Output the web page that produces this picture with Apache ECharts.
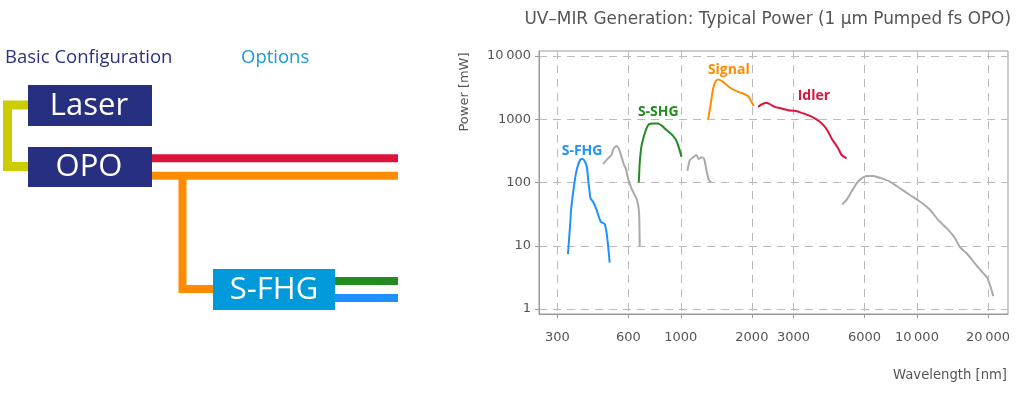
<!DOCTYPE html>
<html>
<head>
<meta charset="utf-8">
<script src="https://cdn.jsdelivr.net/npm/echarts@6/dist/echarts.min.js"></script>
<style>
html,body{margin:0;padding:0;background:#fff;}
#chart{width:1024px;height:395px;}
</style>
</head>
<body>
<div id="chart"></div>
<script>
// ---- data (wavelength in nm, power in mW) ----
const xTicks = [300, 600, 1000, 2000, 3000, 6000, 10000, 20000];
const yTicks = [1, 10, 100, 1000, 10000];

const sfhgWl = [333, 341, 343, 356, 364, 376, 384, 395, 401, 407, 415, 425, 440, 458, 476, 484, 492, 500];
const sfhgPw = [7.4, 25, 37, 110, 168, 232, 236, 205, 168, 97, 56, 50, 37, 24, 22, 17, 10.3, 5.4];

const sshgWl = [664, 670, 681, 697, 716, 734, 763, 801, 836, 870, 913, 952, 974, 1007];
const sshgPw = [100, 201, 367, 528, 716, 837, 859, 859, 779, 673, 582, 480, 390, 255];

const signalWl = [1306, 1340, 1371, 1407, 1448, 1511, 1586, 1666, 1749, 1837, 1929, 1993, 2037];
const signalPw = [993, 1775, 3060, 4035, 4245, 3890, 3330, 2952, 2706, 2552, 2313, 1880, 1626];

const idlerWl = [2127, 2198, 2293, 2383, 2500, 2670, 2849, 3041, 3246, 3464, 3697, 3881, 4077, 4210, 4351, 4492, 4642, 4798, 5035];
const idlerPw = [1570, 1711, 1815, 1730, 1570, 1479, 1392, 1358, 1261, 1161, 1030, 910, 759, 633, 498, 415, 346, 272, 241];

const grayAWl = [469, 492, 508, 520, 534, 546, 561, 575, 585, 598, 618, 638, 653, 666, 670];
const grayAPw = [196, 241, 272, 346, 377, 346, 255, 189, 167, 116, 81, 63, 53, 33, 9.7];

const grayBWl = [1067, 1092, 1127, 1165, 1192, 1223, 1255, 1272, 1290, 1314, 1345];
const grayBPw = [153, 226, 250, 272, 235, 250, 237, 189, 145, 110, 101];

const grayCWl = [4826, 5035, 5287, 5553, 5832, 6124, 6534, 7087, 7685, 8472, 9340, 10300, 11350, 12300, 13570, 14490, 15210, 16240, 17340, 18500, 19740, 20380, 21060];
const grayCPw = [45, 53, 72, 97, 116, 127, 127, 116, 103, 81, 63.5, 50, 37, 25.6, 17.8, 13.2, 9.5, 7.6, 5.6, 4.2, 3.2, 2.4, 1.6];

// labels for curves: [text, wavelength, power]
const curveLabels = {
  sfhg: ['S-FHG', 382, 314],
  sshg: ['S-SHG', 803, 1294],
  signal: ['Signal', 1597, 6055],
  idler: ['Idler', 3661, 2313]
};

// ---- helpers ----
const zip = (a, b) => a.map((v, i) => [v, b[i]]);
const fmt = v => {
  const n = Math.round(v);
  return n >= 10000 ? String(n).replace(/(\d)(?=(\d{3})+$)/g, '$1\u2009') : String(n);
};
const FONT = 'DejaVu Sans';
const DIAG_FONT = 'Open Sans';

function curve(name, wl, pw, color, lbl) {
  const s = {
    name: name, type: 'line', data: zip(wl, pw), showSymbol: false, symbol: 'none',
    smooth: 0.2, lineStyle: { color: color, width: 2 }, itemStyle: { color: color },
    z: 3, silent: true
  };
  if (lbl) {
    s.markPoint = {
      symbol: 'circle', symbolSize: 0, silent: true,
      data: [{ coord: [lbl[1], lbl[2]], value: lbl[0] }],
      label: { show: true, position: 'inside', formatter: lbl[0], color: color,
               fontFamily: DIAG_FONT, fontWeight: 'bold', fontSize: 14 }
    };
  }
  return s;
}

const chart = echarts.init(document.getElementById('chart'), null, { renderer: 'canvas' });

const NAVY = '#273080';
const option = {
  backgroundColor: '#fff',
  animation: false,
  title: {
    text: 'UV\u2013MIR Generation: Typical Power (1 \u03bcm Pumped fs OPO)',
    right: 13, top: 11, padding: 0,
    textStyle: { color: '#555', fontFamily: FONT, fontSize: 16.9, fontWeight: 'normal' }
  },
  grid: { left: 539, right: 16, top: 51, bottom: 81, show: true, borderColor: '#999', borderWidth: 1, containLabel: false },
  xAxis: {
    type: 'log', logBase: 10, min: 251, max: 24300,
    axisLine: { show: true, onZero: false, lineStyle: { color: '#999' } },
    axisTick: { show: true, length: 4, customValues: xTicks, lineStyle: { color: '#999' } },
    axisLabel: { customValues: xTicks, formatter: fmt, color: '#555', fontFamily: FONT, fontSize: 13, margin: 17 },
    splitLine: { show: true, lineStyle: { color: '#bbb', type: [8, 6], width: 1 } },
    minorTick: { show: false }, minorSplitLine: { show: false }
  },
  yAxis: {
    type: 'log', logBase: 10, min: 0.834, max: 11990,
    axisLine: { show: true, onZero: false, lineStyle: { color: '#999' } },
    axisTick: { show: true, length: 4, customValues: yTicks, lineStyle: { color: '#999' } },
    axisLabel: { customValues: yTicks, formatter: fmt, color: '#555', fontFamily: FONT, fontSize: 13, margin: 8 },
    splitLine: { show: true, lineStyle: { color: '#bbb', type: [8, 6], width: 1 } }
  },
  series: [
    curve('gray A', grayAWl, grayAPw, '#aaaaaa'),
    curve('gray B', grayBWl, grayBPw, '#aaaaaa'),
    curve('gray C', grayCWl, grayCPw, '#aaaaaa'),
    curve('S-FHG', sfhgWl, sfhgPw, '#1e90ff', curveLabels.sfhg),
    curve('S-SHG', sshgWl, sshgPw, '#228b22', curveLabels.sshg),
    curve('Signal', signalWl, signalPw, '#ff8c00', curveLabels.signal),
    curve('Idler', idlerWl, idlerPw, '#dc143c', curveLabels.idler)
  ],
  graphic: [
    // axis names
    { type: 'text', x: 465, y: 92, rotation: Math.PI / 2,
      style: { text: 'Power [mW]', fill: '#555', font: '13px "' + FONT + '"', textAlign: 'center', textVerticalAlign: 'middle' } },
    { type: 'text', x: 1007, y: 376,
      style: { text: 'Wavelength [nm]', fill: '#555', font: '13.2px "' + FONT + '"', textAlign: 'right', textVerticalAlign: 'middle' } },
    // diagram headings
    { type: 'text', x: 5, y: 58,
      style: { text: 'Basic Configuration', fill: '#2b3182', font: '18.5px "' + DIAG_FONT + '"', textVerticalAlign: 'middle' } },
    { type: 'text', x: 241, y: 58,
      style: { text: 'Options', fill: '#1a9ad7', font: '18.5px "' + DIAG_FONT + '"', textVerticalAlign: 'middle' } },
    // connectors
    { type: 'polyline', shape: { points: [[30, 105], [7.5, 105], [7.5, 166.5], [30, 166.5]] },
      style: { stroke: '#cccc00', lineWidth: 9, fill: null, lineJoin: 'miter', lineCap: 'butt' } },
    { type: 'line', shape: { x1: 150, y1: 158.3, x2: 398, y2: 158.3 }, style: { stroke: '#dc143c', lineWidth: 8 } },
    { type: 'line', shape: { x1: 150, y1: 175.7, x2: 398, y2: 175.7 }, style: { stroke: '#ff8c00', lineWidth: 8 } },
    { type: 'polyline', shape: { points: [[182.5, 176], [182.5, 289], [215, 289]] },
      style: { stroke: '#ff8c00', lineWidth: 8, fill: null, lineJoin: 'miter', lineCap: 'butt' } },
    { type: 'line', shape: { x1: 333, y1: 281, x2: 398, y2: 281 }, style: { stroke: '#228b22', lineWidth: 8 } },
    { type: 'line', shape: { x1: 333, y1: 298, x2: 398, y2: 298 }, style: { stroke: '#1e90ff', lineWidth: 8 } },
    // boxes
    { type: 'rect', shape: { x: 28, y: 85, width: 124, height: 41 }, style: { fill: NAVY } },
    { type: 'text', x: 89, y: 106, style: { text: 'Laser', fill: '#fff', font: '31px "' + DIAG_FONT + '"', textAlign: 'center', textVerticalAlign: 'middle' } },
    { type: 'rect', shape: { x: 28, y: 147, width: 124, height: 40 }, style: { fill: NAVY } },
    { type: 'text', x: 89, y: 167, style: { text: 'OPO', fill: '#fff', font: '31px "' + DIAG_FONT + '"', textAlign: 'center', textVerticalAlign: 'middle' } },
    { type: 'rect', shape: { x: 213, y: 269, width: 122, height: 41 }, style: { fill: '#0099da' } },
    { type: 'text', x: 274, y: 290, style: { text: 'S-FHG', fill: '#fff', font: '31px "' + DIAG_FONT + '"', textAlign: 'center', textVerticalAlign: 'middle' } }
  ]
};
chart.setOption(option);
</script>
</body>
</html>
